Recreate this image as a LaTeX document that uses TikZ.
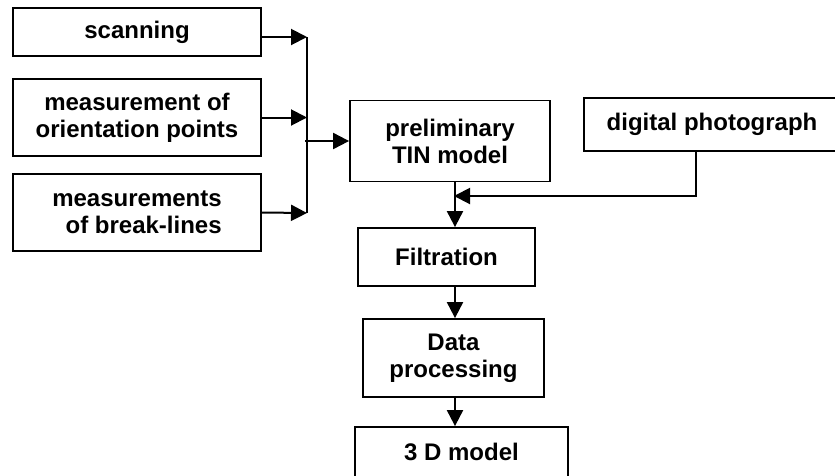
\documentclass[tikz,border=0pt]{standalone}
\usepackage{fontspec}
\setmainfont{Liberation Sans}
\usetikzlibrary{positioning, calc, arrows.meta}

\begin{document}
\begin{tikzpicture}[x=1pt,y=-1pt,
    box/.style={draw,line width=1.8pt,align=center,inner sep=0pt,
                font=\bfseries\fontsize{24}{27}\selectfont},
    arr/.style={line width=2pt,-{Triangle[length=16pt,width=16pt]}}]
\clip (0,0) rectangle (835,475);
% inputs on the left
\draw   (137,32) node[box,minimum width=248,minimum height=48](scan){scanning}
        (137,117.5) node[box,minimum width=248,minimum height=77](orient){measurement of\\orientation points}
        (137,212.5) node[box,minimum width=248,minimum height=77,align=right](brk){measurements\\of break-lines};
\coordinate (bartop) at (307,37);
\coordinate (barbot) at (307,213);
\coordinate (tap) at (305,141);
\draw[line width=2pt] (bartop) -- (barbot);
\path[arr]
    ([yshift=-5pt]scan.east) edge (bartop)
    (orient.east) edge (orient.east -| bartop)
    (brk.east) edge (barbot);
% main column
\draw   (450,141) node[box,minimum width=200,minimum height=81](prelim){preliminary\\TIN model}
        (712,124.5) node[box,minimum width=256,minimum height=53](photo){digital photograph}
        (446.5,257) node[box,minimum width=177,minimum height=58](filt){Filtration}
        (453.5,358) node[box,minimum width=181,minimum height=78](data){Data\\processing}
        (461.5,452) node[box,minimum width=213,minimum height=50](model){3 D model};
\coordinate (col) at (455,0);
\coordinate (join) at (454,196);
\coordinate (bend) at (696,196);
\path[arr]
    (tap) edge (prelim.west |- tap)
    (prelim.south -| col) edge (filt.north -| col)
    (filt.south -| col) edge (data.north -| col)
    (data.south -| col) edge (model.north -| col);
\draw[arr] (photo.south -| bend) -- (bend) -- (join);
\end{tikzpicture}
\end{document}
